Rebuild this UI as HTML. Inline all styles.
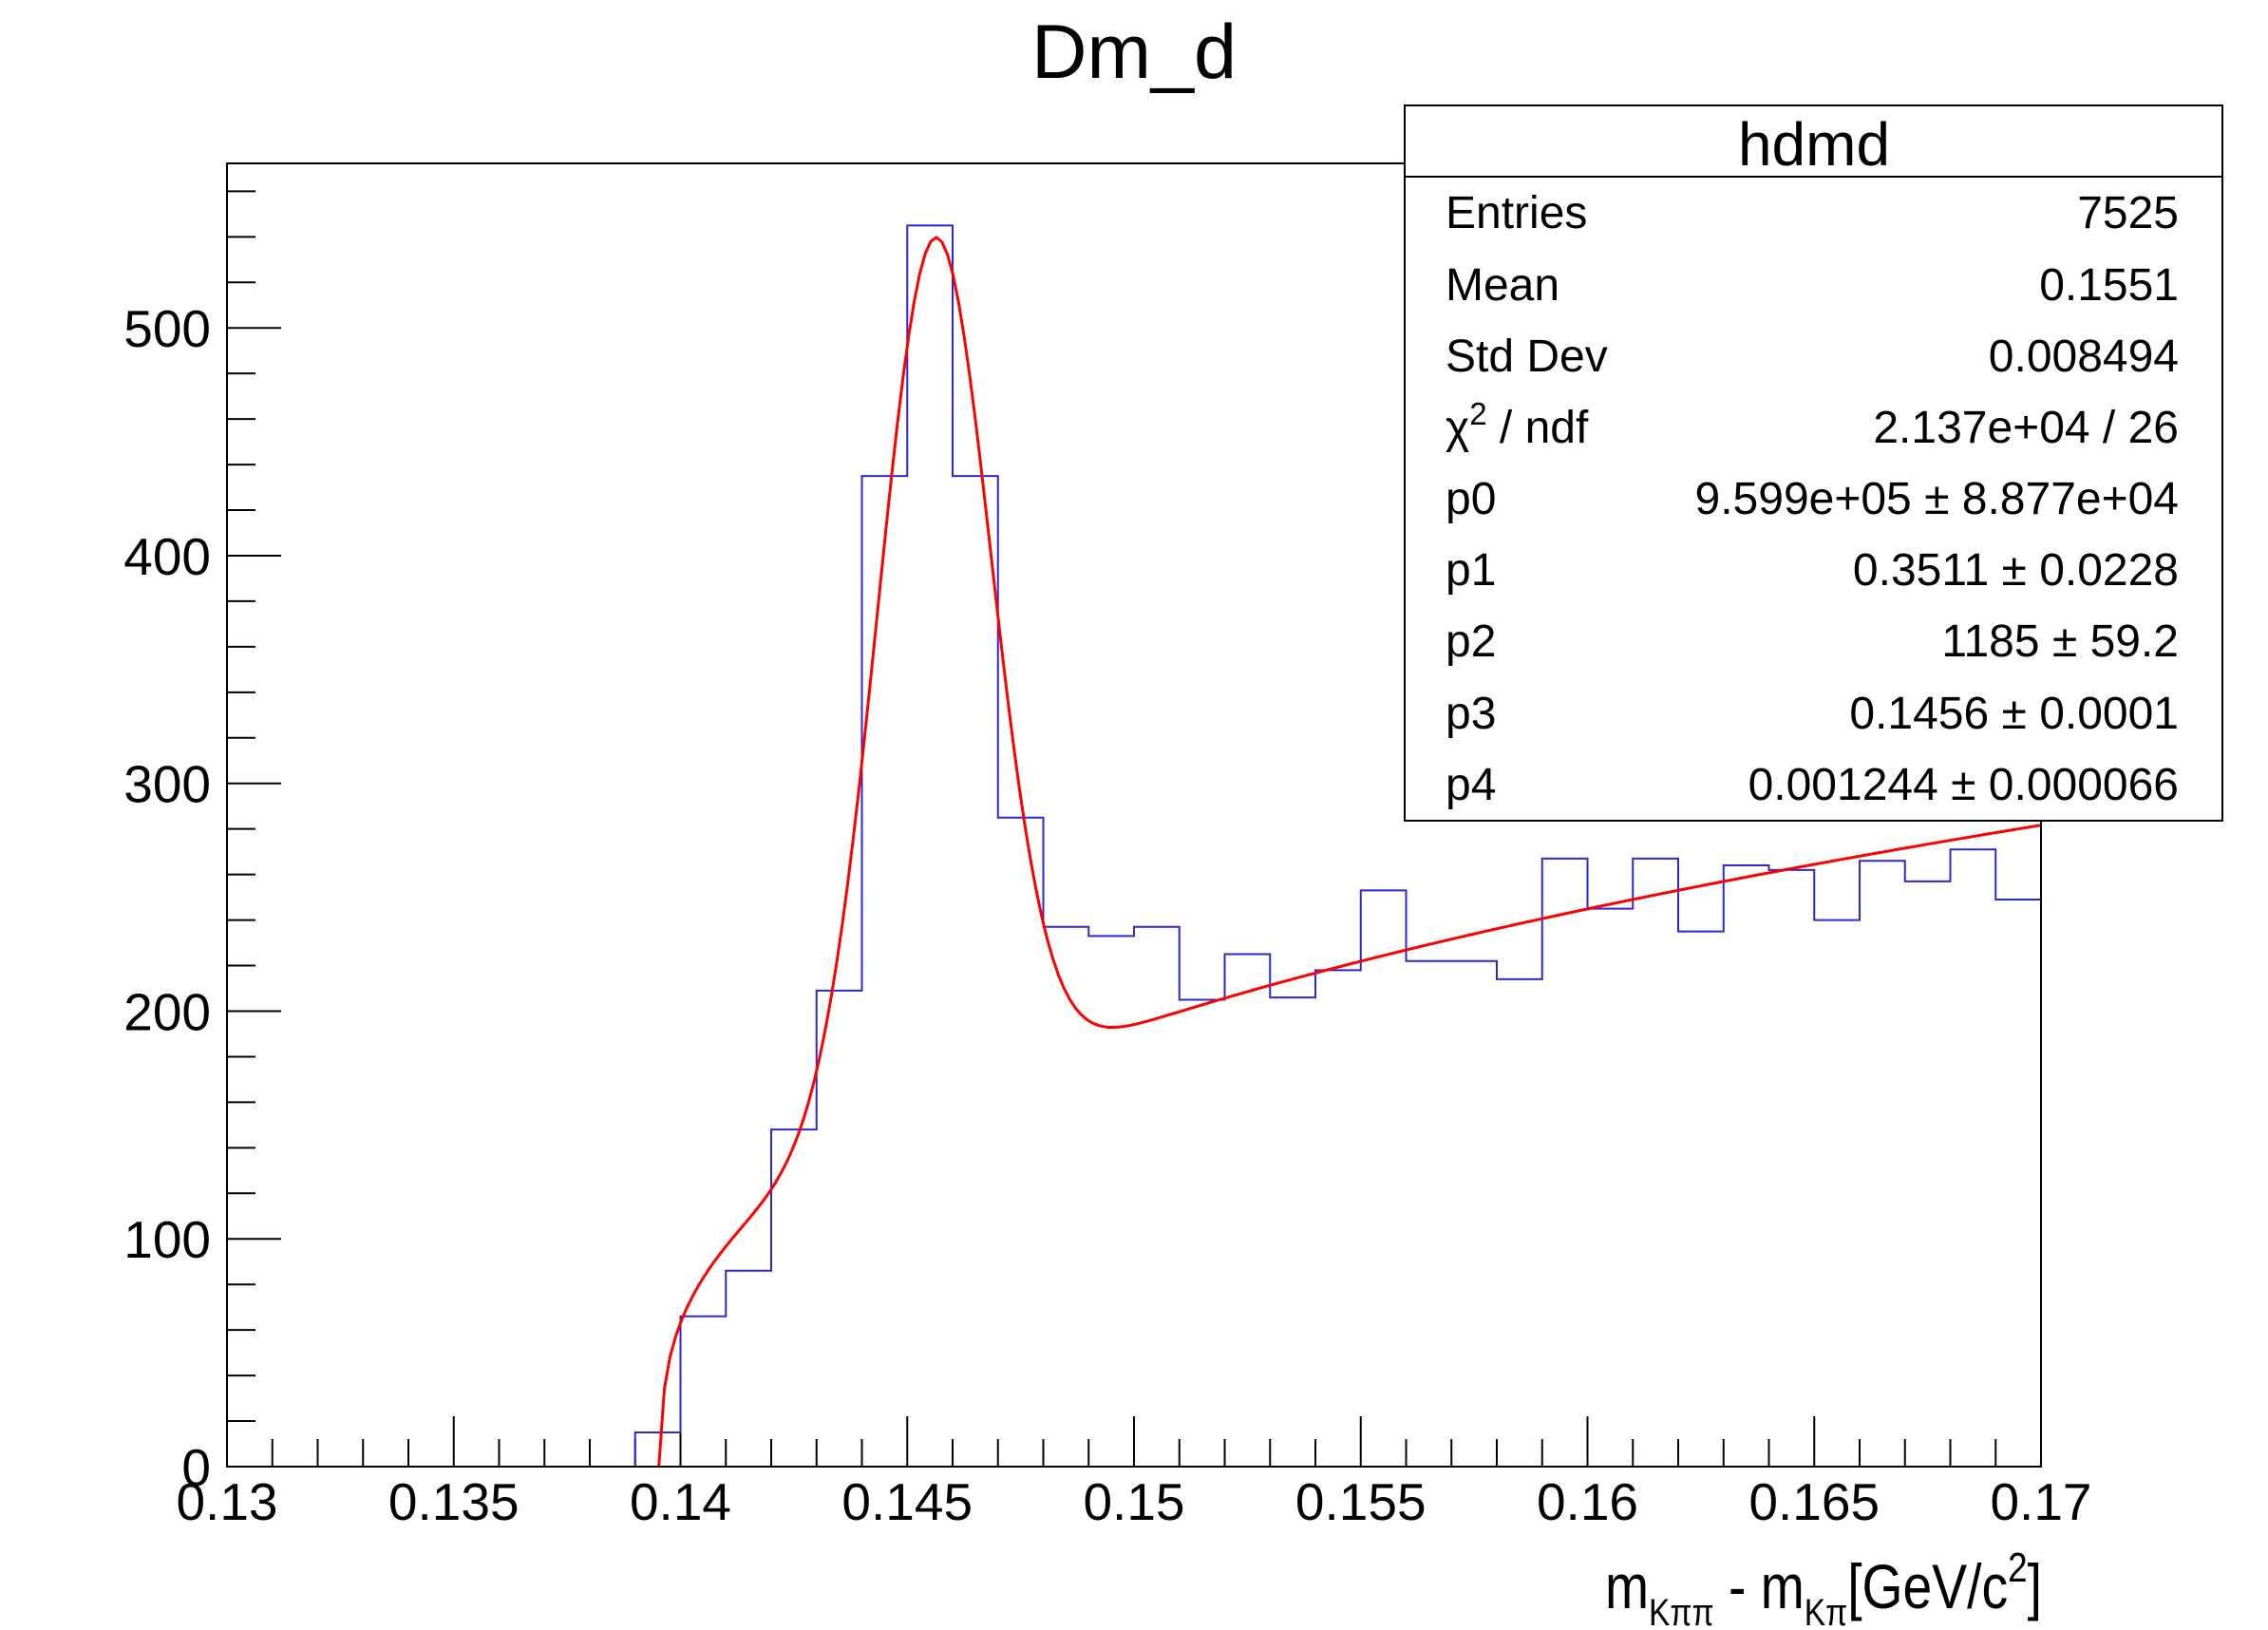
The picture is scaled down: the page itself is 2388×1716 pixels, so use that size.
<!DOCTYPE html>
<html><head><meta charset="utf-8"><style>
html,body{margin:0;padding:0;background:#fff;}
svg{display:block;}
text{font-family:"Liberation Sans",sans-serif;fill:#000;}
</style></head><body>
<svg id="s" width="2388" height="1716" viewBox="0 0 2388 1716" xmlns="http://www.w3.org/2000/svg">
<rect width="2388" height="1716" fill="#fff"/>
<g id="ticks" stroke="#000" stroke-width="2"></g>
<path id="hist" fill="none" stroke="#2a2ad0" stroke-width="2"/>
<path id="fit" fill="none" stroke="#ff0000" stroke-width="3" clip-path="url(#cp)"/>
<clipPath id="cp"><rect x="239" y="172" width="1910" height="1372"/></clipPath>
<rect x="239" y="172" width="1910" height="1372" fill="none" stroke="#000" stroke-width="2"/>
<g id="labels" font-size="55"></g>
<text x="1194" y="82" font-size="81" text-anchor="middle">Dm_d</text>
<text x="2150" y="1693" font-size="66" text-anchor="end" textLength="460" lengthAdjust="spacingAndGlyphs">m<tspan font-size="40" dy="18">Kππ</tspan><tspan dy="-18"> - m</tspan><tspan font-size="40" dy="18">Kπ</tspan><tspan dy="-18">[GeV/c</tspan><tspan font-size="44" dy="-28">2</tspan><tspan dy="28">]</tspan></text>
<rect x="1479" y="111" width="861" height="753" fill="#fff" stroke="#000" stroke-width="2"/>
<line x1="1479" y1="186" x2="2340" y2="186" stroke="#000" stroke-width="2"/>
<text x="1910" y="174" font-size="64" text-anchor="middle">hdmd</text>
<g font-size="48">
<text x="1522" y="240">Entries</text><text x="2294" y="240" text-anchor="end">7525</text>
<text x="1522" y="316">Mean</text><text x="2294" y="316" text-anchor="end">0.1551</text>
<text x="1522" y="391">Std Dev</text><text x="2294" y="391" text-anchor="end">0.008494</text>
<text x="1522" y="466">χ<tspan font-size="33" dy="-19">2</tspan><tspan dy="19"> / ndf</tspan></text><text x="2294" y="466" text-anchor="end">2.137e+04 / 26</text>
<text x="1522" y="541">p0</text><text x="2294" y="541" text-anchor="end">9.599e+05 ± 8.877e+04</text>
<text x="1522" y="616">p1</text><text x="2294" y="616" text-anchor="end">0.3511 ± 0.0228</text>
<text x="1522" y="691">p2</text><text x="2294" y="691" text-anchor="end">1185 ± 59.2</text>
<text x="1522" y="767">p3</text><text x="2294" y="767" text-anchor="end">0.1456 ± 0.0001</text>
<text x="1522" y="842">p4</text><text x="2294" y="842" text-anchor="end">0.001244 ± 0.000066</text>
</g>
</svg>
<script>
(function(){
var X=function(x){return 239+(x-0.13)/0.04*1910;};
var Y=function(y){return 1544-y/572.25*1372;};
var ns="http://www.w3.org/2000/svg";
var tg=document.getElementById('ticks'), lg=document.getElementById('labels');
function line(x1,y1,x2,y2){var l=document.createElementNS(ns,'line');l.setAttribute('x1',x1);l.setAttribute('y1',y1);l.setAttribute('x2',x2);l.setAttribute('y2',y2);tg.appendChild(l);}
function txt(x,y,s,a){var t=document.createElementNS(ns,'text');t.setAttribute('x',x);t.setAttribute('y',y);t.setAttribute('text-anchor',a);t.textContent=s;lg.appendChild(t);}
for(var i=0;i<=40;i++){var x=X(0.13+i*0.001);var L=(i%5==0)?53:29;line(x,1544,x,1544-L);}
var xl=['0.13','0.135','0.14','0.145','0.15','0.155','0.16','0.165','0.17'];
for(var i=0;i<9;i++)txt(X(0.13+i*0.005),1600,xl[i],'middle');
for(var v=0;v<=570;v+=20){var y=Y(v);var L=(v%100==0)?57:30;line(239,y,239+L,y);}
for(var v=0;v<=500;v+=100)txt(222,Y(v)+20,String(v),'end');
var c=[15,66,86,148,209,435,545,435,285,237,233,237,205,225,206,218,253,222,222,214,267,245,267,235,264,262,240,266,257,271,249];
var d='M'+X(0.13)+' '+Y(0)+' L'+X(0.139)+' '+Y(0);
for(var i=0;i<c.length;i++){var x0=X(0.139+i*0.001),x1=X(0.140+i*0.001);d+=' L'+x0+' '+Y(c[i])+' L'+x1+' '+Y(c[i]);}
d+=' L'+X(0.17)+' '+Y(0);
document.getElementById('hist').setAttribute('d',d);
var p0=9.599e5,p1=0.3511,p2=1185,p3=0.1456,p4=0.001244,m=0.13957;
var f=function(x){var b=x>m?p0*Math.pow(x-m,p1):0;return 0.001*(b+p2/(Math.sqrt(2*Math.PI)*p4)*Math.exp(-0.5*Math.pow((x-p3)/p4,2)));};
var pd='M'+X(0.13955).toFixed(2)+' '+Y(0).toFixed(2);
for(var i=1;i<=250;i++){var x=0.1394+(0.17-0.1394)*i/250;pd+=' L'+X(x).toFixed(2)+' '+Y(f(x)).toFixed(2);}
document.getElementById('fit').setAttribute('d',pd);
})();
</script>
</body></html>
